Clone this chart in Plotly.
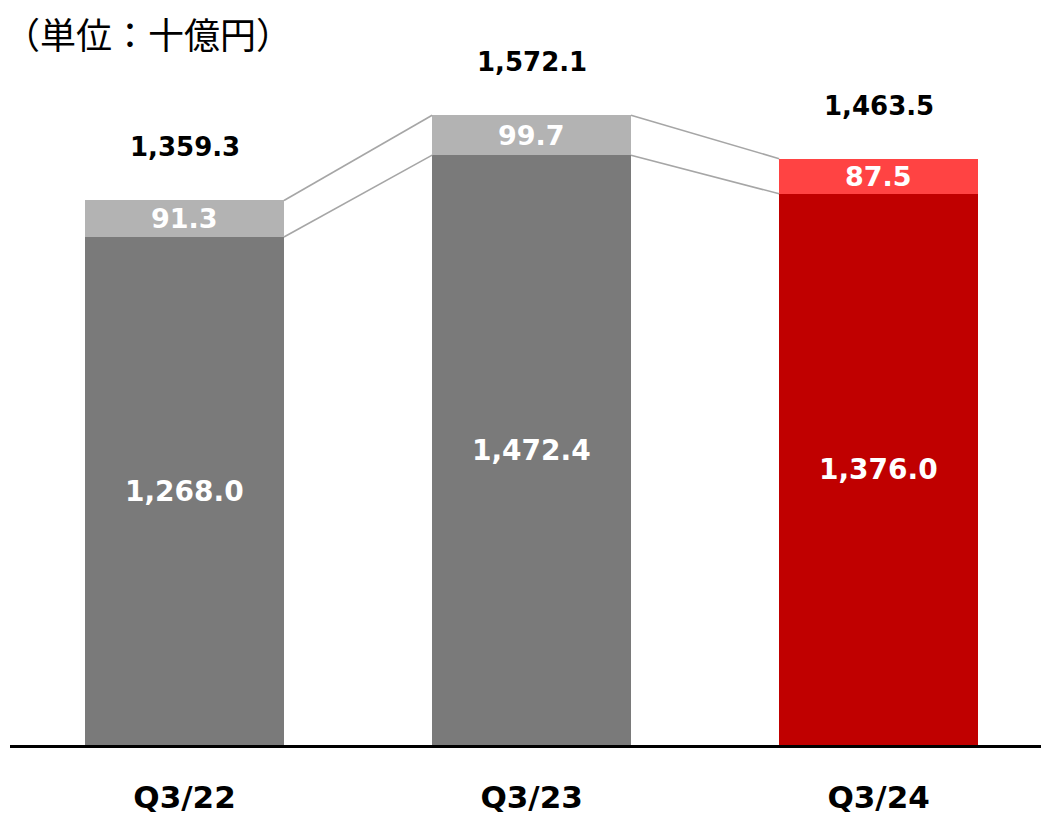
import plotly.graph_objects as go

# Quarterly revenue (billion yen): core segment and additional segment
quarters = ["Q3/22", "Q3/23", "Q3/24"]
base_values = [1268.0, 1472.4, 1376.0]
extra_values = [91.3, 99.7, 87.5]
total_values = [1359.3, 1572.1, 1463.5]

base_colors = ["#7a7a7a", "#7a7a7a", "#c00000"]
extra_colors = ["#b3b3b3", "#b3b3b3", "#ff4343"]

unit_label = "（単位：十億円）"

num_font = "DejaVu Sans"
bar_width = 0.573
xpos = list(range(len(quarters)))

fig = go.Figure()

fig.add_trace(go.Bar(
    x=xpos, y=base_values, width=bar_width,
    marker=dict(color=base_colors, line=dict(width=0)),
    hoverinfo="skip", showlegend=False,
))
fig.add_trace(go.Bar(
    x=xpos, y=extra_values, base=base_values, width=bar_width,
    marker=dict(color=extra_colors, line=dict(width=0)),
    hoverinfo="skip", showlegend=False,
))

# Connector lines between neighbouring bars (segment boundary and total)
for i in range(len(quarters) - 1):
    xs = [xpos[i] + bar_width / 2, xpos[i + 1] - bar_width / 2]
    for series in (base_values, total_values):
        fig.add_trace(go.Scatter(
            x=xs, y=[series[i], series[i + 1]], mode="lines",
            line=dict(color="#a6a6a6", width=1.6),
            hoverinfo="skip", showlegend=False,
        ))

annotations = []
for i in xpos:
    annotations.append(dict(
        x=i, y=base_values[i] / 2, xref="x", yref="y",
        text=f"{base_values[i]:,.1f}", showarrow=False,
        font=dict(family=num_font, size=28, color="white", weight="bold"),
    ))
    annotations.append(dict(
        x=i, y=base_values[i] + extra_values[i] / 2, xref="x", yref="y",
        text=f"{extra_values[i]:,.1f}", showarrow=False,
        font=dict(family=num_font, size=27, color="white", weight="bold"),
    ))
    annotations.append(dict(
        x=i, y=total_values[i], xref="x", yref="y", yshift=53,
        text=f"{total_values[i]:,.1f}", showarrow=False,
        font=dict(family=num_font, size=26, color="black", weight="bold"),
    ))

# Unit label in the top-left corner
annotations.append(dict(
    x=-8 / 1031, y=1 - 33 / 745, xref="paper", yref="paper", yanchor="middle",
    xanchor="left", text=unit_label, showarrow=False,
    font=dict(family="Noto Sans CJK JP", size=36, color="black"),
))

fig.update_layout(
    width=1041, height=815,
    margin=dict(l=10, r=0, t=0, b=70, autoexpand=False),
    paper_bgcolor="white", plot_bgcolor="white",
    bargap=0, barmode="overlay",
    annotations=annotations,
    xaxis=dict(
        range=[-0.503, 2.468], tickvals=xpos, ticktext=quarters,
        showgrid=False, zeroline=False, showline=True,
        linecolor="black", linewidth=3, automargin=False,
        ticks="outside", ticklen=23, tickcolor="rgba(0,0,0,0)",
        tickfont=dict(family=num_font, size=31, color="black", weight="bold"),
    ),
    yaxis=dict(
        range=[0, 1859.7], visible=False, showgrid=False, zeroline=False,
        automargin=False,
    ),
)

fig.write_html("out.html")
